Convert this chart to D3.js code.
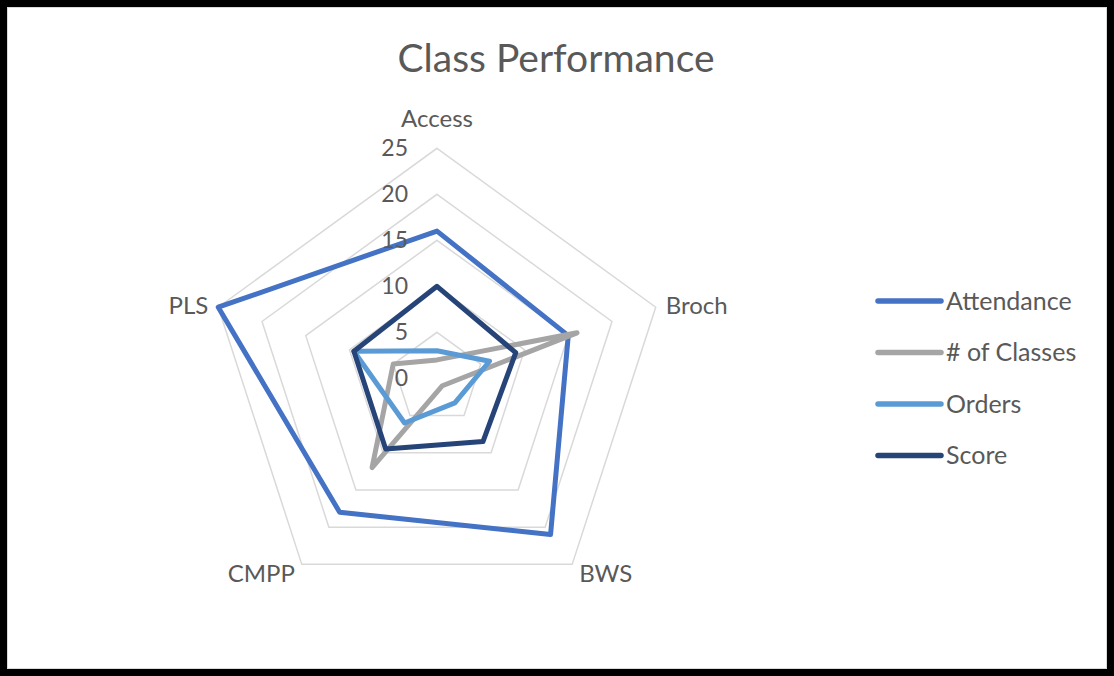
<!DOCTYPE html>
<html>
<head>
<meta charset="utf-8">
<script src="https://cdn.jsdelivr.net/npm/d3@7"></script>
<style>
  html, body { margin: 0; padding: 0; background: #fff; }
  svg { display: block; }
  text { font-family: Lato, "Open Sans", sans-serif; fill: #595959; }
</style>
</head>
<body>
<div id="chart"></div>
<script>
var width = 1114;
var height = 676;

// data
var axes = ["Access", "Broch", "BWS", "CMPP", "PLS"];
var ticks = [0, 5, 10, 15, 20, 25];
var seriesNames = ["Attendance", "# of Classes", "Orders", "Score"];
var attendance = [16, 15, 21, 18, 25];
var classes = [2, 16, 1, 12, 5];
var orders = [3, 6, 3.3, 6, 9.5];
var score = [10, 9, 8.5, 9.5, 9.5];
var colors = ["#4472C4", "#A5A5A5", "#5B9BD5", "#264478"];

var series = [attendance, classes, orders, score];

var cx = 437, cy = 378.3, R = 230;

var svg = d3.select("#chart").append("svg")
  .attr("width", width)
  .attr("height", height);

// frame
svg.append("rect")
  .attr("x", 3.5).attr("y", 3.5)
  .attr("width", width - 7).attr("height", height - 7)
  .attr("fill", "#fff").attr("stroke", "#000").attr("stroke-width", 7);
svg.append("rect")
  .attr("x", 7.5).attr("y", 7.5)
  .attr("width", width - 15).attr("height", height - 15)
  .attr("fill", "none").attr("stroke", "#d9d9d9").attr("stroke-width", 1);

// title
svg.append("text")
  .attr("x", 556).attr("y", 72)
  .attr("text-anchor", "middle")
  .style("font-size", "39px")
  .text("Class Performance");

var r = d3.scaleLinear().domain([0, 25]).range([0, R]);

function angle(i) {
  return -Math.PI / 2 + i * 2 * Math.PI / axes.length;
}
function pt(i, v) {
  var a = angle(i);
  return [cx + r(v) * Math.cos(a), cy + r(v) * Math.sin(a)];
}

var g = svg.append("g");

// gridlines (rings)
var ring = d3.line().curve(d3.curveLinearClosed);
g.selectAll(".grid")
  .data(ticks.slice(1))
  .enter().append("path")
    .attr("class", "grid")
    .attr("d", function(t) { return ring(axes.map(function(a, i) { return pt(i, t); })); })
    .attr("fill", "none")
    .attr("stroke", "#d9d9d9")
    .attr("stroke-width", 1.5);

// series
g.selectAll(".series")
  .data(series)
  .enter().append("path")
    .attr("class", "series")
    .attr("d", function(s) { return ring(s.map(function(v, i) { return pt(i, v); })); })
    .attr("fill", "none")
    .attr("stroke", function(s, k) { return colors[k]; })
    .attr("stroke-width", 5)
    .attr("stroke-linejoin", "round");

// tick labels
g.selectAll(".tick")
  .data(ticks)
  .enter().append("text")
    .attr("class", "tick")
    .attr("x", cx - 29)
    .attr("y", function(t) { return cy - r(t); })
    .attr("dy", "0.35em")
    .attr("text-anchor", "end")
    .style("font-size", "23px")
    .text(function(t) { return t; });

// axis labels
var labelPos = [
  { dx: 0, dy: -21, anchor: "middle", base: "auto" },
  { dx: 10, dy: -3, anchor: "start", base: "central" },
  { dx: 7, dy: 8, anchor: "start", base: "central" },
  { dx: -7, dy: 8, anchor: "end", base: "central" },
  { dx: -10, dy: -3, anchor: "end", base: "central" }
];
g.selectAll(".axis-label")
  .data(axes)
  .enter().append("text")
    .attr("class", "axis-label")
    .attr("x", function(d, i) { return pt(i, 25)[0] + labelPos[i].dx; })
    .attr("y", function(d, i) { return pt(i, 25)[1] + labelPos[i].dy; })
    .attr("text-anchor", function(d, i) { return labelPos[i].anchor; })
    .attr("dominant-baseline", function(d, i) { return labelPos[i].base; })
    .style("font-size", "24px")
    .text(function(d) { return d; });

// legend
var legend = svg.append("g").attr("transform", "translate(878,301)");
var item = legend.selectAll(".item")
  .data(seriesNames)
  .enter().append("g")
    .attr("class", "item")
    .attr("transform", function(d, i) { return "translate(0," + (i * 51.5) + ")"; });
item.append("line")
  .attr("x1", 0).attr("x2", 63)
  .attr("stroke", function(d, i) { return colors[i]; })
  .attr("stroke-width", 5.5)
  .attr("stroke-linecap", "round");
item.append("text")
  .attr("x", 68)
  .attr("dy", "0.35em")
  .style("font-size", "25px")
  .text(function(d) { return d; });
</script>
</body>
</html>
